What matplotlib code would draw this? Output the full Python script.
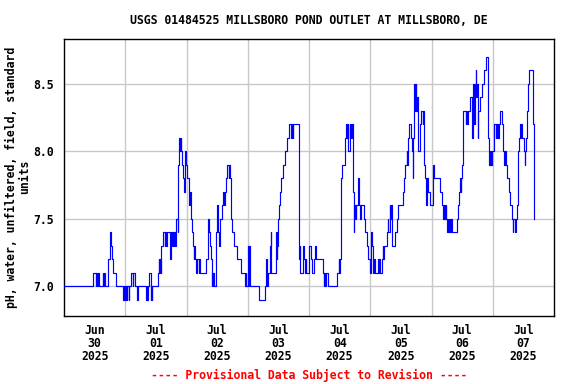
import matplotlib
matplotlib.use("Agg")
import matplotlib.pyplot as plt
import matplotlib.dates as mdates
import numpy as np
import pandas as pd

# ---- data: change points (hours since 2025-06-30 00:00) and pH values ----
t_hours = [
    0, 11.2, 12.4, 12.65, 12.9, 13.5, 13.9, 15.1, 15.35, 15.6, 15.9, 17.4, 17.9, 18.4, 18.8, 19.3, 20.2,
    23.2, 23.5, 24.0, 24.25, 24.6, 24.85, 25.3, 25.6, 26.3, 26.9, 27.2, 27.7, 28.7, 29.0,
    32.1, 32.35, 32.6, 32.85, 33.4, 33.9, 34.15, 34.4, 34.65, 36.8, 37.1, 37.35, 37.6, 37.85, 38.1,
    38.9, 39.4, 39.65, 39.9, 40.2, 41.5, 41.75, 42.0, 42.25, 42.5, 42.75, 43.0, 43.5, 43.9, 44.5,
    44.8, 45.0, 45.5, 45.75, 46.0, 46.3, 46.8, 47.05, 47.3, 47.5, 47.9,
    48.3, 48.8, 49.0, 49.25, 49.6, 50.1, 50.5, 50.8, 51.05, 51.3, 51.8, 52.3, 52.8, 53.05, 53.3,
    55.6, 56.5, 56.9, 57.2, 57.5, 57.8, 58.05, 58.3, 58.55, 58.9, 59.4, 59.9, 60.3, 60.7, 61.3,
    61.8, 62.4, 62.65, 62.9, 63.5, 64.0, 64.5, 64.75, 65.0, 65.5, 66.0, 66.6, 67.9, 69.5, 71.0,
    71.25, 71.5,
    72.1, 72.3, 72.6, 73.0, 76.6, 78.6, 79.2, 79.45, 79.7, 79.95, 80.7, 81.1, 81.3, 83.1, 83.4,
    83.65, 84.0, 84.3, 84.7, 85.2, 85.9, 86.6, 87.3, 88.3, 89.0, 89.3, 89.55, 89.8, 91.9, 92.1,
    92.4, 92.65, 93.7, 94.2, 94.45, 94.7, 95.0,
    96.0, 96.9, 97.3, 97.8, 98.3, 98.9, 101.3, 101.8, 102.05, 102.3, 102.55, 103.5, 106.8, 107.7,
    107.95, 108.2, 108.4, 108.6, 109.1, 110.0, 110.6, 110.85, 111.1, 111.4, 111.9, 112.2, 112.45,
    112.7, 113.0, 113.3, 113.45, 113.6, 113.85, 114.1, 114.35, 114.6, 115.2, 115.45, 115.7, 116.0,
    116.3, 117.6, 118.0, 118.8, 119.2, 119.8,
    120.2, 120.6, 121.0, 121.25, 121.5, 121.75, 123.0, 123.3, 123.55, 124.0, 124.5, 124.9, 125.15,
    125.4, 126.6, 126.9, 127.15, 127.6, 127.85, 128.1, 128.4, 128.65, 129.8, 130.3, 131.0, 132.9,
    133.4, 133.8, 134.3, 134.5, 134.7, 135.2, 136.0, 136.5, 136.7, 136.9, 137.3, 137.55, 137.8,
    138.0, 138.4, 138.6, 138.9, 139.4, 140.0, 140.5, 140.75, 141.0, 141.5, 141.7, 141.9, 142.1,
    142.4, 142.7, 143.4,
    144.6, 145.1, 147.5, 148.0, 148.7, 149.0, 149.25, 149.5, 149.8, 150.0, 150.3, 150.6, 151.0,
    151.25, 151.5, 151.9, 154.0, 154.5, 154.8, 155.2, 155.45, 155.7, 156.0, 156.5, 157.4, 157.65,
    157.9, 158.2, 159.1, 159.7, 160.0, 160.4, 160.8, 161.0, 161.3, 161.6, 161.85, 162.1, 162.4,
    163.1, 163.8, 164.4, 165.5, 166.3, 166.5, 166.75, 167.0, 167.25, 167.5, 167.75,
    168.6, 169.1, 169.35, 169.6, 169.8, 170.2, 170.45, 171.0, 171.8, 172.1, 172.5, 172.75, 173.2,
    173.6, 174.4, 174.9, 175.5, 175.75, 176.0, 176.7, 177.1, 177.5, 177.7, 177.9, 178.3, 178.6,
    179.0, 179.25, 179.5, 180.2, 180.45, 180.7, 181.2, 181.4, 181.6, 181.8, 182.1, 183.7, 184.3,
]
ph_values = [
    7.0, 7.1, 7.0, 7.1, 7.0, 7.1, 7.0, 7.1, 7.0, 7.1, 7.0, 7.2, 7.4, 7.3, 7.2, 7.1, 7.0,
    6.9, 7.0, 6.9, 7.0, 6.9, 7.0, 6.9, 7.0, 7.1, 7.0, 7.1, 7.0, 6.9, 7.0,
    6.9, 7.0, 6.9, 7.0, 7.1, 6.9, 7.0, 6.9, 7.0, 7.1, 7.2, 7.1, 7.2, 7.1, 7.3,
    7.4, 7.3, 7.4, 7.3, 7.4, 7.2, 7.3, 7.4, 7.3, 7.4, 7.3, 7.4, 7.3, 7.5, 7.4,
    7.9, 8.1, 8.0, 8.1, 8.0, 7.9, 7.8, 7.7, 7.8, 8.0, 7.9,
    7.8, 7.7, 7.6, 7.7, 7.5, 7.4, 7.3, 7.2, 7.3, 7.2, 7.1, 7.2, 7.1, 7.2, 7.1,
    7.2, 7.5, 7.4, 7.3, 7.2, 7.0, 7.1, 7.0, 7.1, 7.0, 7.4, 7.6, 7.4, 7.3, 7.5,
    7.6, 7.7, 7.6, 7.7, 7.8, 7.9, 7.8, 7.9, 7.8, 7.5, 7.4, 7.3, 7.2, 7.1, 7.0,
    7.1, 7.0,
    7.3, 7.0, 7.3, 7.0, 6.9, 7.0, 7.2, 7.1, 7.0, 7.1, 7.3, 7.4, 7.1, 7.4, 7.2,
    7.3, 7.5, 7.6, 7.7, 7.8, 7.9, 8.0, 8.1, 8.2, 8.1, 8.2, 8.1, 8.2, 7.4, 7.2,
    7.3, 7.1, 7.3, 7.2, 7.1, 7.2, 7.1,
    7.3, 7.2, 7.1, 7.2, 7.3, 7.2, 7.1, 7.0, 7.1, 7.0, 7.1, 7.0, 7.1, 7.2,
    7.1, 7.2, 7.6, 7.8, 7.9, 8.1, 8.2, 8.1, 8.2, 8.0, 8.2, 8.1, 8.2,
    8.1, 8.2, 7.7, 7.4, 7.6, 7.5, 7.6, 7.5, 7.6, 7.8, 7.7, 7.6, 7.5,
    7.6, 7.5, 7.4, 7.3, 7.2, 7.1,
    7.4, 7.3, 7.2, 7.1, 7.2, 7.1, 7.2, 7.1, 7.2, 7.1, 7.2, 7.3, 7.2,
    7.3, 7.4, 7.5, 7.4, 7.6, 7.5, 7.6, 7.4, 7.3, 7.4, 7.5, 7.6, 7.7,
    7.8, 7.9, 8.0, 7.9, 8.1, 8.2, 8.1, 8.0, 7.8, 8.1, 8.5, 8.3, 8.5,
    8.3, 8.4, 8.3, 8.0, 8.2, 8.3, 8.2, 8.3, 7.9, 7.8, 7.7, 7.6, 7.7,
    7.8, 7.7, 7.6,
    7.9, 7.8, 7.7, 7.6, 7.5, 7.6, 7.5, 7.6, 7.5, 7.4, 7.5, 7.4, 7.5,
    7.4, 7.5, 7.4, 7.5, 7.6, 7.7, 7.8, 7.7, 7.8, 7.9, 8.3, 8.2, 8.3,
    8.2, 8.3, 8.4, 8.2, 8.1, 8.5, 8.2, 8.5, 8.6, 8.4, 8.5, 8.1, 8.3,
    8.4, 8.5, 8.6, 8.7, 8.1, 7.9, 8.0, 7.9, 8.0, 7.9, 8.0,
    8.2, 8.1, 8.2, 8.1, 8.2, 8.1, 8.2, 8.3, 8.2, 8.0, 7.9, 8.0, 7.9,
    7.8, 7.7, 7.6, 7.5, 7.4, 7.5, 7.4, 7.5, 7.6, 7.8, 8.0, 8.1, 8.2,
    8.1, 8.2, 8.1, 8.0, 7.9, 8.0, 8.1, 8.2, 8.3, 8.5, 8.6, 8.2, 7.5,
]

start_date = "2025-06-30"
end_date = "2025-07-08"
y_ticks = [7.0, 7.5, 8.0, 8.5]
y_limits = (6.78, 8.83)
title = "USGS 01484525 MILLSBORO POND OUTLET AT MILLSBORO, DE"
y_label = "pH, water, unfiltered, field, standard\nunits"
footer = "---- Provisional Data Subject to Revision ----"

start = pd.Timestamp(start_date)
times = start + pd.to_timedelta(np.array(t_hours), unit="h")

mono = "DejaVu Sans Mono"
fs = 8.3

fig = plt.figure(figsize=(5.76, 3.84), dpi=100)
ax = fig.add_axes([64 / 576, 1 - 316 / 384, (554 - 64) / 576, (316 - 39) / 384])

ax.plot(mdates.date2num(times.to_pydatetime()), ph_values, color="#0000ff",
        lw=0.85, drawstyle="steps-post", zorder=3)

x0 = mdates.date2num(pd.Timestamp(start_date).to_pydatetime())
x1 = mdates.date2num(pd.Timestamp(end_date).to_pydatetime())
ax.set_xlim(x0, x1)
ax.set_ylim(*y_limits)

days = pd.date_range(start_date, end_date, freq="D")
noon = [mdates.date2num((d + pd.Timedelta(hours=12)).to_pydatetime()) for d in days[:-1]]
labels = [d.strftime("%b\n%d\n%Y") for d in days[:-1]]
ax.set_xticks(noon)
ax.set_xticklabels(labels)
ax.set_xticks([mdates.date2num(d.to_pydatetime()) for d in days[1:-1]], minor=True)
ax.set_yticks(y_ticks)
ax.set_yticklabels([f"{v:.1f}" for v in y_ticks])

ax.grid(False)
ax.grid(True, which="minor", axis="x", color="#c8c8c8", lw=1.0)
ax.grid(True, which="major", axis="y", color="#c8c8c8", lw=1.0)
ax.set_axisbelow(True)

ax.tick_params(axis="both", which="both", length=0)
ax.tick_params(axis="x", pad=6)
ax.tick_params(axis="y", pad=7)
for lbl in ax.get_xticklabels():
    lbl.set_fontfamily(mono)
    lbl.set_fontweight("bold")
    lbl.set_fontsize(fs)
    lbl.set_linespacing(1.0)
for lbl in ax.get_yticklabels():
    lbl.set_fontfamily(mono)
    lbl.set_fontweight("bold")
    lbl.set_fontsize(fs)

for s in ax.spines.values():
    s.set_color("black")
    s.set_linewidth(1.0)

fig.text(309 / 576, 1 - 20 / 384, title, ha="center", va="center",
         fontfamily=mono, fontweight="bold", fontsize=fs)
fig.text(18 / 576, 1 - 177 / 384, y_label, ha="center", va="center", rotation=90,
         multialignment="center", fontfamily=mono, fontweight="bold", fontsize=fs,
         linespacing=1.05)
fig.text(309 / 576, 1 - 375 / 384, footer, ha="center", va="center",
         fontfamily=mono, fontweight="bold", fontsize=fs, color="#ff0000")

fig.savefig("out.png", dpi=100)
